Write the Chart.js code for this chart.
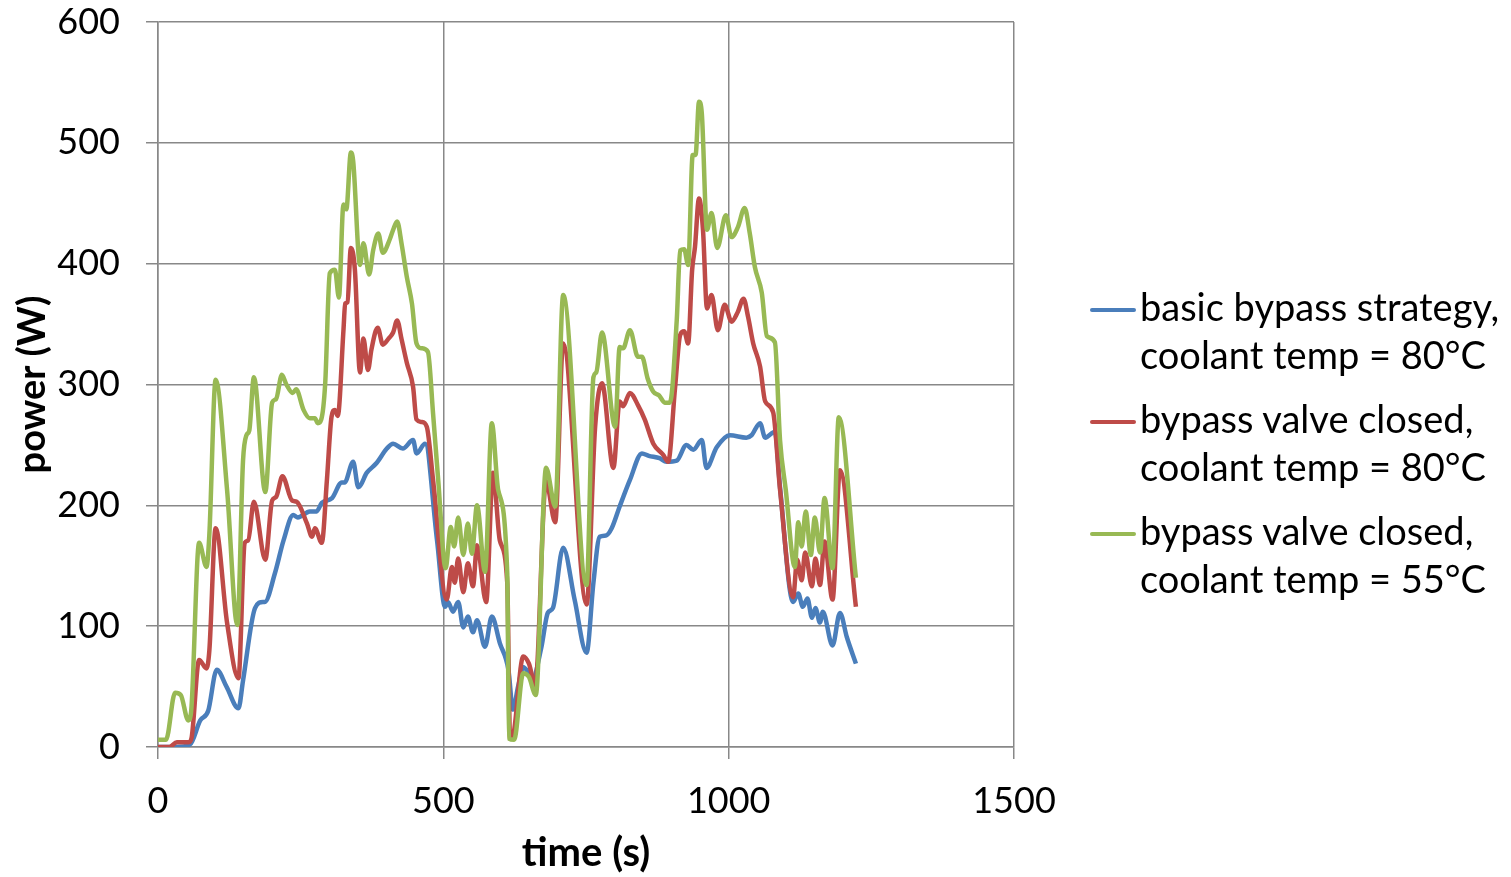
<!DOCTYPE html>
<html>
<head>
<meta charset="utf-8">
<script src="https://cdn.jsdelivr.net/npm/chart.js@4"></script>
<style>
  html, body { margin: 0; padding: 0; background: #fff; }
  #wrap { position: relative; width: 1511px; height: 877px; }
  #legend { position: absolute; left: 1090px; top: 282px; font-family: Lato, "Open Sans", sans-serif; font-size: 38px; color: #000; }
  .item { position: relative; margin-bottom: 16px; }
  .swatch { position: absolute; left: 0; top: 26px; width: 46px; height: 4px; border-radius: 2px; }
  .txt { margin-left: 50px; line-height: 48px; white-space: pre; }
</style>
</head>
<body>
<div id="wrap">
  <canvas id="c" width="1511" height="877"></canvas>
  <div id="legend"></div>
</div>
<script>
// ---- data ----
const seriesLabels = [
  "basic bypass strategy,\ncoolant temp = 80°C",
  "bypass valve closed,\ncoolant temp = 80°C",
  "bypass valve closed,\ncoolant temp = 55°C"
];
const seriesColors = ["#4a7ebb", "#be4b48", "#98b954"];

const xTicks = [0, 500, 1000, 1500];
const yTicks = [0, 100, 200, 300, 400, 500, 600];

const blueTime = [0,30,56,74,88,103,120,141,149,170,184,187,205,220,237,245,266,278,287,305,322,327,342,351,366,383,401,412,429,447,453,468,489,503,508,517,526,535,543,552,559,573,585,599,614,622,631,640,657,672,683,692,710,730,751,763,774,785,795,809,827,848,860,879,891,909,926,938,953,961,979,1002,1031,1040,1055,1064,1081,1090,1113,1122,1130,1138,1146,1152,1160,1165,1182,1195,1207,1223];
const blueValues = [0,0,2,22,30,64,50,32,55,115,120,120,144,171,192,190,195,195,202,206,219,219,236,215,227,235,247,251,247,254,243,251,171,116,120,112,120,99,108,95,105,83,108,86,64,31,50,66,58,83,111,115,165,122,78,136,174,175,181,199,221,243,241,239,236,237,250,246,254,231,248,258,256,258,268,256,261,215,120,127,116,123,107,115,103,112,84,111,91,69];

const redTime = [0,20,33,54,59,72,85,90,101,121,141,152,158,168,188,200,207,218,235,243,261,270,275,287,296,304,310,315,325,328,332,338,345,354,360,368,374,385,394,404,412,419,427,436,447,453,462,471,482,506,515,520,526,535,543,552,559,575,587,599,612,617,622,640,650,661,680,696,710,751,766,778,798,809,815,827,841,853,868,885,894,906,915,922,929,936,941,948,955,962,970,981,993,1005,1016,1026,1034,1043,1055,1064,1078,1090,1113,1120,1128,1134,1146,1152,1160,1168,1182,1195,1223];
const redValues = [0,0,4,4,8,72,65,80,181,103,57,169,171,203,155,204,207,224,204,203,185,174,181,169,221,273,279,274,345,367,368,413,395,310,338,312,329,347,333,338,343,353,337,318,298,271,269,265,221,122,149,136,156,128,152,133,167,120,227,171,136,7,9,75,69,51,220,186,334,118,265,301,231,286,282,293,283,271,251,242,236,297,341,344,334,395,414,454,428,363,374,345,366,352,360,371,356,334,315,286,277,213,124,155,138,161,133,156,134,170,122,229,116];

const greenTime = [0,14,30,40,53,58,72,85,90,101,121,139,149,155,160,168,188,200,207,217,225,236,242,255,266,275,280,286,293,301,310,317,325,330,338,342,354,360,370,377,386,394,406,412,419,427,436,445,453,462,473,482,491,504,513,519,526,535,543,550,559,573,585,596,612,615,624,640,650,662,680,696,710,751,763,768,778,801,809,815,827,841,848,858,868,878,888,897,909,915,922,929,937,942,948,953,962,970,980,995,1005,1016,1028,1037,1046,1058,1067,1081,1090,1100,1116,1122,1128,1135,1144,1151,1160,1168,1182,1193,1223];
const greenValues = [6,6,45,43,22,29,169,149,176,304,213,101,237,258,262,306,211,285,288,308,300,293,296,279,272,272,268,271,301,392,395,372,449,445,492,485,399,417,391,411,425,409,420,428,435,416,389,367,334,330,327,276,221,148,182,166,190,159,185,160,200,145,268,213,144,7,6,61,58,43,231,199,374,134,306,310,343,265,331,330,345,323,323,305,294,291,285,285,353,411,412,399,490,490,534,524,428,442,413,440,422,430,446,425,397,376,340,335,254,213,149,186,166,195,159,190,161,206,148,273,140];

// ---- build ----
function pts(t, v) { return t.map((x, i) => ({ x: x, y: v[i] })); }
const seriesData = [pts(blueTime, blueValues), pts(redTime, redValues), pts(greenTime, greenValues)];

const FONT = "Lato, 'Open Sans', sans-serif";
const gridColor = "#888888";

const datasets = seriesData.map((d, i) => ({
  label: seriesLabels[i],
  data: d,
  borderColor: seriesColors[i],
  backgroundColor: seriesColors[i],
  borderWidth: 4.5,
  pointRadius: 0,
  tension: 0.3,
  cubicInterpolationMode: 'monotone',
  fill: false,
  order: 3 - i
}));

new Chart(document.getElementById('c'), {
  type: 'line',
  data: { datasets: datasets },
  options: {
    responsive: false,
    devicePixelRatio: 1,
    animation: false,
    layout: { padding: { left: 0, top: 22, right: 497, bottom: 0 } },
    plugins: { legend: { display: false }, tooltip: { enabled: false } },
    scales: {
      x: {
        type: 'linear', min: 0, max: 1500,
        afterBuildTicks: s => { s.ticks = xTicks.map(v => ({ value: v })); },
        afterFit: s => { s.height = 130; },
        grid: { color: gridColor, lineWidth: 1.5, tickLength: 12, drawTicks: true },
        border: { color: gridColor, width: 1.5 },
        ticks: { color: '#000', font: { family: FONT, size: 36 }, padding: 21, maxRotation: 0, callback: v => String(v) },
        title: { display: true, text: 'time (s)', color: '#000', font: { family: FONT, size: 40, weight: 'bold' }, padding: { top: -4, bottom: 0 } }
      },
      y: {
        type: 'linear', min: 0, max: 600,
        afterBuildTicks: s => { s.ticks = yTicks.map(v => ({ value: v })); },
        afterFit: s => { s.width = 158; s.paddingTop = 0; s.paddingBottom = 0; },
        grid: { color: gridColor, lineWidth: 1.5, tickLength: 12, drawTicks: true },
        border: { color: gridColor, width: 1.5 },
        ticks: { color: '#000', font: { family: FONT, size: 36 }, padding: 26, callback: v => String(v) },
        title: { display: true, text: 'power (W)', color: '#000', font: { family: FONT, size: 38, weight: 'bold' }, padding: { top: 10, bottom: 0 } }
      }
    }
  }
});

// HTML legend built from series labels/colours
const lg = document.getElementById('legend');
seriesLabels.forEach((lab, i) => {
  const it = document.createElement('div'); it.className = 'item';
  const sw = document.createElement('div'); sw.className = 'swatch'; sw.style.background = seriesColors[i];
  const tx = document.createElement('div'); tx.className = 'txt'; tx.textContent = lab;
  it.appendChild(sw); it.appendChild(tx); lg.appendChild(it);
});
</script>
</body>
</html>
